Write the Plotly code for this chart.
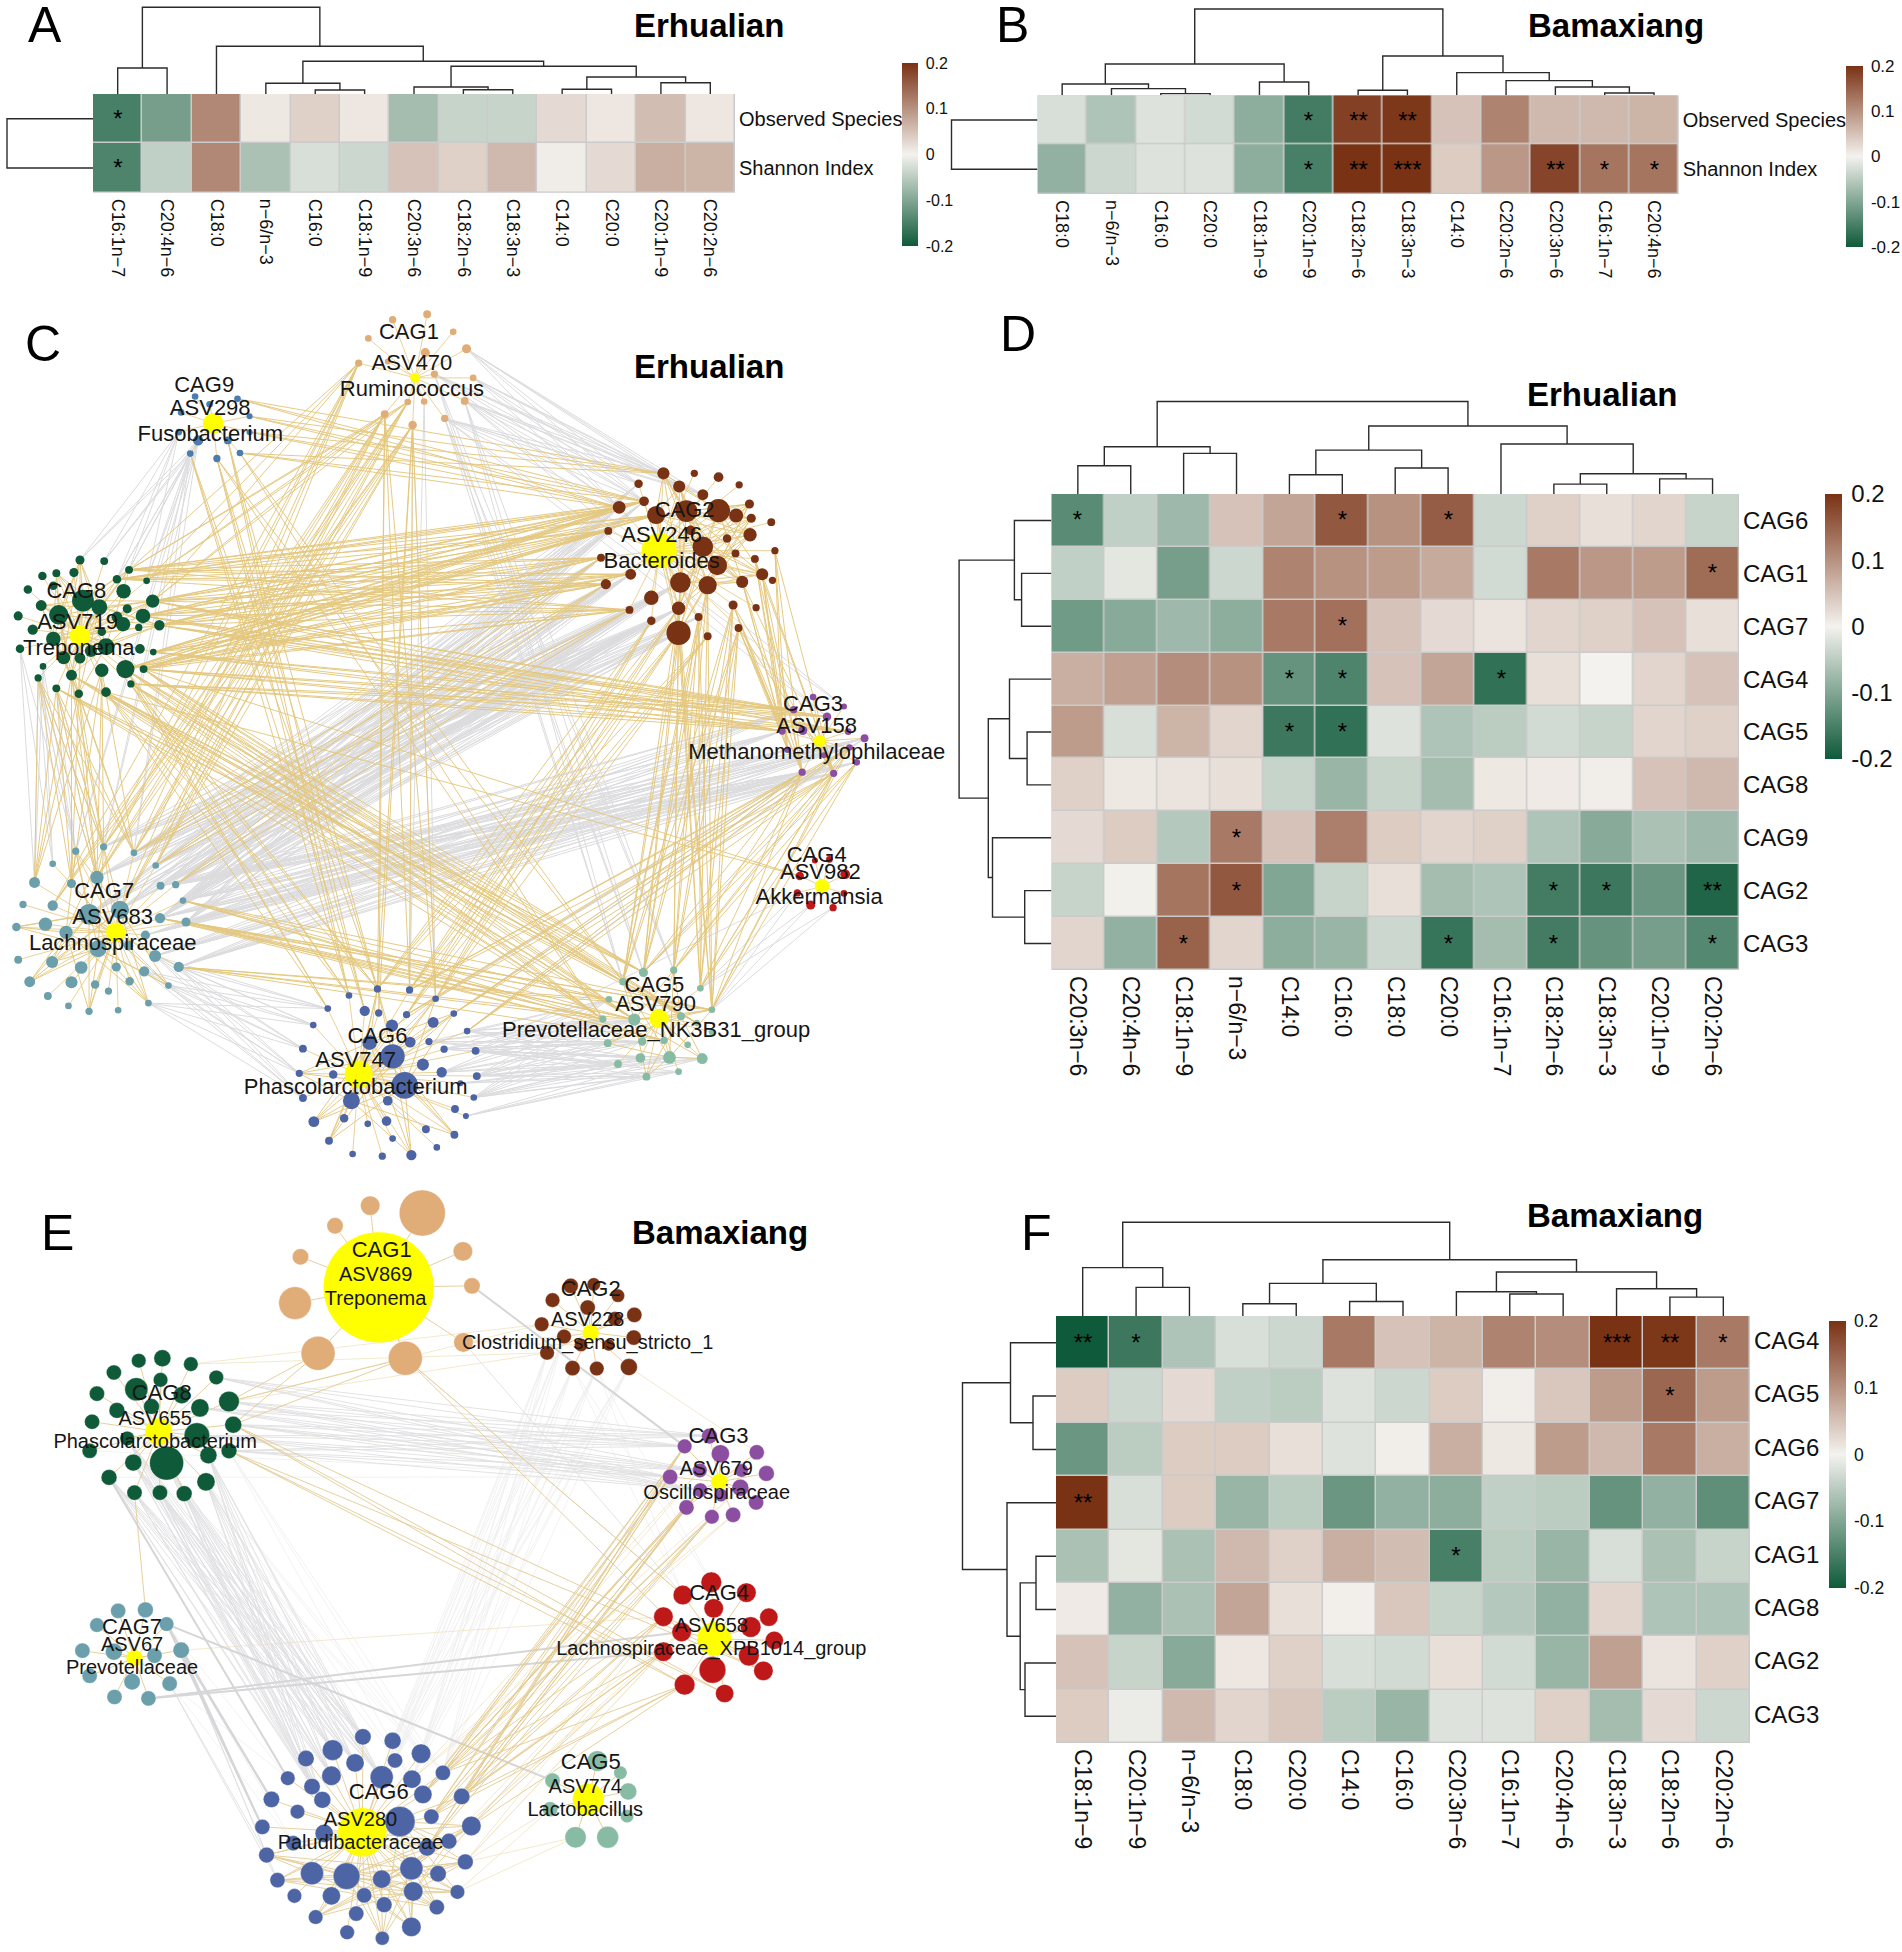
import plotly.graph_objects as go

W, H = 1902, 1952
FONT = "Liberation Sans"
SCALE = [[0, "#0F5A3A"], [0.5, "#F4F2EE"], [1, "#7A3214"]]

# ---------- heatmap values ----------
ROWS_AB = ["Observed Species", "Shannon Index"]
COLS_A = ["C16:1n−7", "C20:4n−6", "C18:0", "n−6/n−3", "C16:0", "C18:1n−9", "C20:3n−6", "C18:2n−6", "C18:3n−3", "C14:0", "C20:0", "C20:1n−9", "C20:2n−6"]
Z_A = [[-0.15, -0.11, 0.11, 0.01, 0.035, 0.012, -0.07, -0.04, -0.04, 0.025, 0.012, 0.055, 0.012],
       [-0.145, -0.045, 0.11, -0.065, -0.025, -0.035, 0.05, 0.035, 0.06, 0.006, 0.025, 0.07, 0.065]]
STARS_A = {(0, 0): "*", (1, 0): "*"}
TOP_A = [(0, 1, 26), (4, 5, 4), (3, 14, 10.7), (7, 8, 4.3), (6, 16, 7), (9, 10, 4.7), (11, 12, 11.3), (18, 19, 17), (17, 20, 27.7), (15, 21, 32.7), (2, 22, 47.7), (13, 23, 86.7)]
LEFT_AB = [(0, 1, 86)]

COLS_B = ["C18:0", "n−6/n−3", "C16:0", "C20:0", "C18:1n−9", "C20:1n−9", "C18:2n−6", "C18:3n−3", "C14:0", "C20:2n−6", "C20:3n−6", "C16:1n−7", "C20:4n−6"]
Z_B = [[-0.025, -0.06, -0.02, -0.03, -0.09, -0.155, 0.185, 0.195, 0.05, 0.115, 0.06, 0.06, 0.065],
       [-0.085, -0.035, -0.02, -0.02, -0.09, -0.15, 0.2, 0.2, 0.04, 0.095, 0.18, 0.13, 0.13]]
STARS_B = {(0, 5): "*", (1, 5): "*", (0, 6): "**", (1, 6): "**", (0, 7): "**", (1, 7): "***", (1, 10): "**", (1, 11): "*", (1, 12): "*"}
TOP_B = [(2, 3, 1.7), (1, 13, 6.7), (0, 14, 11.3), (4, 5, 13.3), (15, 16, 31.3), (6, 7, 5), (11, 12, 2.3), (10, 19, 8.3), (9, 20, 14.7), (8, 21, 22.7), (18, 22, 39.3), (17, 23, 86.3)]

ROWS_D = ["CAG6", "CAG1", "CAG7", "CAG4", "CAG5", "CAG8", "CAG9", "CAG2", "CAG3"]
COLS_D = ["C20:3n−6", "C20:4n−6", "C18:1n−9", "n−6/n−3", "C14:0", "C16:0", "C18:0", "C20:0", "C16:1n−7", "C18:2n−6", "C18:3n−3", "C20:1n−9", "C20:2n−6"]
Z_D = [[-0.135, -0.045, -0.075, 0.05, 0.08, 0.16, 0.1, 0.155, -0.035, 0.035, 0.02, 0.03, -0.04],
       [-0.045, -0.015, -0.11, -0.035, 0.115, 0.1, 0.09, 0.075, -0.03, 0.125, 0.095, 0.09, 0.14],
       [-0.115, -0.095, -0.075, -0.09, 0.125, 0.135, 0.05, 0.025, 0.015, 0.03, 0.035, 0.05, 0.02],
       [0.07, 0.085, 0.105, 0.1, -0.125, -0.145, 0.05, 0.08, -0.17, 0.02, 0.0, 0.03, 0.05],
       [0.09, -0.025, 0.065, 0.03, -0.16, -0.17, -0.02, -0.06, -0.05, -0.03, -0.04, 0.03, 0.035],
       [0.035, 0.01, 0.015, 0.02, -0.04, -0.08, -0.04, -0.07, 0.01, 0.008, 0.005, 0.05, 0.06],
       [0.025, 0.04, -0.055, 0.125, 0.05, 0.12, 0.04, 0.03, 0.035, -0.06, -0.095, -0.065, -0.075],
       [-0.04, -0.003, 0.13, 0.16, -0.1, -0.04, 0.02, -0.07, -0.06, -0.155, -0.16, -0.12, -0.185],
       [0.03, -0.085, 0.15, 0.03, -0.09, -0.08, -0.035, -0.165, -0.07, -0.155, -0.125, -0.11, -0.14]]
STARS_D = {(0, 0): "*", (0, 5): "*", (0, 7): "*", (1, 12): "*", (2, 5): "*", (3, 4): "*", (3, 5): "*", (3, 8): "*", (4, 4): "*", (4, 5): "*", (6, 3): "*", (7, 3): "*", (7, 9): "*", (7, 10): "*", (7, 12): "**", (8, 2): "*", (8, 7): "*", (8, 9): "*", (8, 12): "*"}
TOP_D = [(0, 1, 28.3), (2, 3, 40.6), (13, 14, 47.2), (4, 5, 19.3), (6, 7, 26), (16, 17, 43.9), (9, 10, 9.9), (11, 12, 15.1), (19, 20, 20.3), (8, 21, 50), (18, 22, 68), (15, 23, 92.5)]
LEFT_D = [(1, 2, 29.8), (0, 9, 37), (4, 5, 24.3), (3, 11, 41.9), (7, 8, 26.7), (6, 13, 58.9), (12, 14, 63.1), (10, 15, 92.3)]

ROWS_F = ["CAG4", "CAG5", "CAG6", "CAG7", "CAG1", "CAG8", "CAG2", "CAG3"]
COLS_F = ["C18:1n−9", "C20:1n−9", "n−6/n−3", "C18:0", "C20:0", "C14:0", "C16:0", "C20:3n−6", "C16:1n−7", "C20:4n−6", "C18:3n−3", "C18:2n−6", "C20:2n−6"]
Z_F = [[-0.2, -0.16, -0.06, -0.025, -0.035, 0.125, 0.05, 0.065, 0.115, 0.105, 0.2, 0.195, 0.125],
       [0.04, -0.035, 0.025, -0.045, -0.05, -0.02, -0.035, 0.04, 0.005, 0.045, 0.09, 0.145, 0.09],
       [-0.12, -0.05, 0.04, 0.04, 0.02, -0.02, 0.005, 0.07, 0.01, 0.09, 0.06, 0.125, 0.07],
       [0.2, -0.025, 0.04, -0.08, -0.05, -0.12, -0.085, -0.09, -0.045, -0.05, -0.125, -0.085, -0.13],
       [-0.065, -0.015, -0.065, 0.06, 0.035, 0.07, 0.055, -0.15, -0.05, -0.08, -0.025, -0.065, -0.04],
       [0.008, -0.085, -0.065, 0.08, 0.02, 0.003, 0.045, -0.04, -0.055, -0.085, 0.03, -0.06, -0.06],
       [0.05, -0.04, -0.095, 0.012, 0.035, -0.025, -0.03, 0.02, -0.03, -0.08, 0.085, 0.015, 0.035],
       [0.04, -0.008, 0.06, 0.03, 0.045, -0.05, -0.08, -0.02, -0.02, 0.035, -0.07, 0.025, -0.035]]
STARS_F = {(0, 0): "**", (0, 1): "*", (0, 10): "***", (0, 11): "**", (0, 12): "*", (1, 11): "*", (3, 0): "**", (4, 7): "*"}
TOP_F = [(1, 2, 28.6), (0, 13, 48.4), (3, 4, 12.3), (5, 6, 14.5), (15, 16, 32.6), (8, 9, 22), (7, 18, 24.2), (11, 12, 18.9), (10, 20, 27.3), (19, 21, 44), (17, 22, 56.3), (14, 23, 93.8)]
LEFT_F = [(1, 2, 23), (0, 8, 45.5), (4, 5, 20), (6, 7, 31), (10, 11, 35.8), (3, 12, 49), (9, 13, 93.5)]

# ---------- network C (Erhualian): hub and members as (x, y, size) ----------
C_HUBS = {"1": (685, 142, 16), "9": (352, 225, 34), "2": (1088, 457, 58), "8": (132, 612, 34), "3": (1353, 804, 20),
          "4": (1357, 1069, 24), "7": (191, 1153, 32), "6": (592, 1412, 46), "5": (1088, 1310, 32)}
C_1 = [(648,36,12),(705,26,13),(608,70,11),(748,58,11),(770,89,15),(592,115,12),(702,96,15),(717,135,12),(781,142,11),(673,186,11),(700,185,11),(767,184,13),(635,208,13),(681,228,14),(734,216,12),(640,112,10)]
C_9 = [(322,176,11),(346,190,11),(392,180,11),(299,205,11),(412,212,10),(295,241,11),(327,256,17),(376,256,13),(412,241,10),(314,280,11),(358,289,12),(396,279,11)]
C_2 = [(1095,316,20),(1146,316,12),(1186,323,16),(1054,335,14),(1121,340,20),(1220,337,12),(1160,355,18),(1022,378,21),(1063,367,16),(1083,392,30),(1133,385,36),(1186,384,38),(1237,372,15),(1215,393,23),(1240,398,15),(1273,405,13),(1004,421,13),(1238,428,22),(1200,435,14),(1160,450,34),(1279,457,12),(1214,462,13),(992,470,13),(1246,472,13),(1184,484,32),(1041,500,18),(1258,500,20),(1000,518,17),(1225,514,20),(1275,511,12),(1123,515,34),(1168,520,30),(1075,543,24),(1120,562,22),(1210,556,15),(1248,561,12),(1039,565,13),(1075,585,14),(1153,578,13),(1120,607,40),(1168,613,13),(1219,598,13),(1140,420,16)]
C_8 = [(132,474,15),(172,476,13),(70,503,14),(93,498,13),(122,497,15),(213,492,13),(46,528,14),(193,509,14),(242,512,11),(204,531,24),(88,521,14),(137,548,36),(68,557,18),(252,549,22),(30,576,15),(97,574,32),(164,560,26),(210,563,15),(236,576,24),(193,578,18),(54,601,17),(263,593,17),(88,618,24),(229,597,12),(203,591,24),(168,605,14),(33,636,14),(105,652,22),(132,653,18),(175,632,28),(231,636,16),(253,642,11),(71,668,11),(118,684,18),(168,675,22),(207,673,30),(237,673,13),(63,689,12),(216,700,12),(93,708,13),(130,718,14),(175,715,16),(150,640,20)]
C_3 = [(1342,724,11),(1393,741,10),(1310,747,12),(1365,760,14),(1291,786,12),(1325,785,15),(1400,787,11),(1427,799,13),(1300,820,11),(1402,816,11),(1414,843,11),(1324,861,12),(1376,863,12),(1360,830,10)]
C_4 = [(1345,1022,10),(1369,1020,11),(1320,1050,14),(1395,1047,16),(1316,1081,12),(1393,1082,11),(1338,1103,15),(1375,1108,12)]
C_7 = [(125,1005,12),(171,997,12),(87,1028,11),(221,1008,11),(57,1062,18),(118,1064,15),(160,1053,22),(257,1031,11),(265,1068,13),(290,1066,12),(38,1102,12),(87,1104,17),(147,1120,34),(198,1112,30),(302,1095,11),(264,1127,17),(75,1138,22),(27,1143,14),(109,1153,22),(307,1134,15),(240,1158,15),(162,1183,28),(212,1177,16),(30,1203,13),(86,1207,20),(134,1217,21),(192,1216,15),(256,1196,20),(295,1216,17),(238,1224,17),(49,1243,18),(118,1244,20),(157,1248,14),(214,1242,14),(278,1250,11),(79,1269,13),(179,1260,12),(113,1287,11),(147,1297,12),(195,1295,11),(245,1282,11)]
C_6 = [(623,1256,12),(676,1258,12),(576,1268,11),(719,1274,11),(541,1292,11),(602,1296,17),(625,1300,12),(671,1303,12),(749,1301,11),(517,1322,11),(715,1317,18),(647,1323,20),(610,1354,24),(677,1353,18),(771,1333,11),(500,1365,13),(708,1352,12),(648,1379,40),(785,1369,13),(733,1366,12),(698,1394,20),(494,1410,12),(550,1412,14),(729,1408,17),(787,1415,13),(668,1432,44),(760,1428,10),(500,1455,13),(580,1460,28),(782,1454,11),(751,1475,13),(518,1498,18),(568,1492,14),(607,1502,11),(638,1497,16),(769,1488,10),(703,1512,13),(750,1522,13),(543,1533,13),(648,1529,11),(721,1545,11),(582,1557,11),(631,1561,12),(679,1559,17),(640,1460,16)]
C_5 = [(1028,1243,12),(1062,1226,15),(1112,1222,12),(1156,1255,11),(1005,1275,11),(1175,1294,11),(995,1311,12),(1047,1312,20),(1124,1306,13),(1150,1318,10),(1003,1355,13),(1060,1352,14),(1096,1350,12),(1135,1358,11),(1175,1335,10),(1057,1382,16),(1105,1381,21),(1159,1383,18),(1020,1393,13),(1067,1416,13),(1120,1407,11)]
C_NODES = {"1": C_1, "2": C_2, "3": C_3, "4": C_4, "5": C_5, "6": C_6, "7": C_7, "8": C_8, "9": C_9}
C_LABELS = [("CAG1",675,61),("ASV470",680,117),("Ruminococcus",680,165),("CAG9",337,157),("ASV298",347,200),("Fusobacterium",347,247),
            ("CAG2",1130,385),("ASV246",1092,431),("Bacteroides",1092,478),("CAG8",126,533),("ASV719",128,590),("Treponema",130,637),
            ("CAG3",1342,740),("ASV158",1348,780),("Methanomethylophilaceae",1348,827),("CAG4",1348,1015),("ASV982",1354,1045),("Akkermansia",1352,1092),
            ("CAG7",172,1080),("ASV683",186,1128),("Lachnospiraceae",186,1175),("CAG5",1080,1252),("ASV790",1082,1287),("Prevotellaceae_NK3B31_group",1083,1334),
            ("CAG6",623,1345),("ASV747",587,1388),("Phascolarctobacterium",587,1437)]
C_GOLD = [("8",[5,13,21,18,31,36,35,7],"2",[7,16,22,27,25,8,9,36]),
          ("8",[13,21,31,36,18,38],"3",[3,4,2,6]),
          ("8",[36,38,35,41,33,39],"5",[1,7,9,0,6]),
          ("8",[39,40,33,37,34],"7",[4,5,3,6,1]),
          ("7",[3,7,6,13,11,1],"1",[12,13,9,5]),
          ("6",[0,1,3,7],"2",[33,39,37,40]),
          ("5",[0,1,2,3,5],"2",[39,33,31,34,38,41]),
          ("3",[11,12,8,4],"2",[23,26,28,20,34,41]),
          ("3",[11,12,10,9],"5",[1,2,3,5]),
          ("3",[11,12,9],"6",[1,7,8,14]),
          ("7",[14,19,15,28],"5",[5,7,4,6,12]),
          ("7",[7,9,3],"2",[36,27,22]),
          ("9",[9,10,7],"6",[0,2,5]),
          ("9",[2,4,8,11],"2",[7,8,0]),
          ("9",[10,11],"5",[0,6]),
          ("1",[12,13],"6",[0,1,3,6]),
          ("1",[12,5,9],"8",[5,8,13]),
          ("8",[38,35,41],"6",[4,2,0]),
          ("4",[2],"8",[36,41]),
          ("2",[9,10,11,19,24,30,31],"2",[0,4,12,14,17,26,28,33,39]),
          ("8",[11,15,16,22,29,27],"8",[0,3,5,13,21,33,40,12]),
          ("7",[12,13,18,21],"7",[0,1,17,24,30,34,38,40]),
          ("6",[17,25,28,12],"6",[0,3,8,21,31,38,43,37]),
          ("5",[7,8,16],"5",[0,2,5,10,17,19])]
C_GREY = [("7",[14,19,9,8,15,7,13,3,12],"2",[22,27,25,36,16,32,7,37,3,8,30,33]),
          ("7",[14,19,28,27,15,20,9,8],"3",[4,10,9,11,12,7,8,2]),
          ("7",[14,9,8,7,3,15,1,6],"2",[30,32,33,37,39,25,27,36,22,38]),
          ("1",[8,11,14,4,7],"2",[0,3,4,7,8,6]),
          ("9",[5,9,6],"8",[1,5,7,0,8]),
          ("7",[28,34,40,29,27],"6",[4,9,15,21,27]),
          ("6",[14,18,24,19,16,23,29],"5",[4,6,10,18,7,11,15]),
          ("6",[18,24,29,35,26],"5",[17,16,20,19]),
          ("1",[14,7,11],"5",[1,2,0]),
          ("1",[13,10],"6",[1,3]),
          ("8",[26,37,32],"7",[2,4,0]),
          ("8",[37,39],"7",[0,1,6]),
          ("3",[7,11,9],"6",[14,3,8]),
          ("4",[6,4,7],"5",[3,5]),
          ("4",[4],"6",[18]),
          ("7",[0,1,3],"9",[9,6]),
          ("1",[14,11],"3",[1,3])]

# ---------- network E (Bamaxiang) ----------
E_HUBS = {"1": (625, 218, 182), "2": (975, 310, 27), "8": (262, 511, 44), "3": (1187, 613, 27), "4": (1179, 932, 56),
          "7": (222, 971, 27), "6": (598, 1325, 80), "5": (971, 1258, 52)}
E_1 = [(697,67,76),(611,52,32),(553,93,27),(496,156,27),(764,145,32),(779,215,27),(487,250,54),(525,352,56),(669,362,56),(765,330,32)]
E_2 = [(942,215,25),(980,212,22),(912,244,24),(1020,235,22),(970,259,25),(1047,274,25),(1015,282,24),(894,293,24),(931,318,24),(1046,320,25),(959,335,22),(1005,335,20),(903,351,24),(945,382,25),(985,383,24),(1038,380,28)]
E_8 = [(229,367,24),(268,362,28),(315,374,24),(188,391,25),(357,401,24),(265,406,24),(225,425,38),(160,434,25),(300,437,28),(378,450,34),(193,468,26),(330,463,30),(250,460,26),(152,491,25),(385,497,28),(210,525,24),(325,519,42),(148,550,25),(378,550,26),(220,574,28),(344,559,28),(275,575,56),(180,604,26),(340,613,30),(222,635,25),(264,635,25),(304,637,26)]
E_3 = [(1171,520,26),(1130,541,24),(1189,556,30),(1249,553,25),(1106,603,25),(1155,590,24),(1265,596,26),(1224,590,22),(1222,625,28),(1156,630,24),(1248,655,25),(1133,665,25),(1175,684,24),(1210,680,25),(1190,640,22)]
E_4 = [(1174,817,34),(1127,843,32),(1232,838,32),(1178,870,32),(1095,887,32),(1269,888,30),(1239,908,34),(1125,918,32),(1278,935,30),(1095,958,32),(1236,966,34),(1176,995,44),(1260,997,32),(1130,1025,34),(1196,1043,30)]
E_7 = [(195,875,25),(240,873,26),(160,904,24),(275,902,24),(136,956,25),(188,958,28),(255,966,25),(299,955,27),(148,1007,25),(218,1019,27),(280,1023,25),(189,1050,25),(245,1053,25)]
E_6 = [(599,1131,27),(648,1139,28),(549,1158,34),(695,1165,32),(505,1175,27),(586,1184,30),(652,1179,25),(731,1204,25),(547,1210,32),(630,1213,38),(680,1217,30),(475,1215,24),(515,1232,27),(532,1259,28),(698,1248,30),(762,1252,27),(448,1258,27),(491,1283,24),(660,1303,50),(712,1293,25),(778,1312,32),(433,1314,25),(535,1327,30),(741,1343,26),(484,1347,25),(705,1356,28),(440,1371,26),(768,1385,26),(515,1408,38),(572,1414,44),(630,1420,30),(679,1398,38),(723,1409,27),(458,1422,25),(486,1454,24),(547,1454,30),(601,1453,25),(682,1445,32),(755,1446,24),(634,1472,26),(721,1477,25),(588,1490,25),(521,1497,24),(679,1517,32),(573,1528,24),(631,1540,23)]
E_5 = [(986,1180,34),(912,1220,25),(1024,1204,22),(1037,1242,28),(908,1278,25),(1035,1292,22),(950,1335,35),(1003,1335,36)]
E_NODES = {"1": E_1, "2": E_2, "3": E_3, "4": E_4, "5": E_5, "6": E_6, "7": E_7, "8": E_8}
E_LABELS = [("CAG1",630,145),("ASV869",620,195),("Treponema",620,243),("CAG2",975,224),("ASV228",970,286),("Clostridium_sensu_stricto_1",970,333),
            ("CAG8",267,436),("ASV655",256,488),("Phascolarctobacterium",256,535),("CAG3",1186,523),("ASV679",1182,589),("Oscillospiraceae",1183,637),
            ("CAG4",1187,841),("ASV658",1174,908),("Lachnospiraceae_XPB1014_group",1174,955),("CAG7",218,910),("ASV67",218,946),("Prevotellaceae",218,994),
            ("CAG6",625,1246),("ASV280",595,1301),("Paludibacteraceae",595,1349),("CAG5",975,1185),("ASV774",966,1234),("Lactobacillus",966,1282)]
E_GOLD = [("8",[9,14],"1",[8,7]),
          ("8",[14,18],"4",[13,14,12]),
          ("6",[7,14,19,15,25],"3",[11,12,9,4,1]),
          ("6",[7,19,15,20],"4",[4,9,13]),
          ("1",[8],"4",[1,7]),
          ("8",[24],"7",[1]),
          ("6",[18,29,30,31,37,36],"6",[20,23,27,38,40,43,45,42,33,26])]
E_GOLD_FAINT = [("6",[38,27],"5",[4,6]), ("8",[2,9],"2",[7,12]), ("8",[14],"3",[4]), ("7",[7],"4",[4]), ("6",[15,23,27],"4",[4,7,9]), ("1",[9],"2",[8,10]), ("2",[15],"3",[3]), ("6",[10,14],"3",[13,8,5])]
E_GREY = [("8",[19,21,22,24,25,26,23,20,15],"6",[5,0,8,12,13,9,2]),
          ("8",[4,9,14,18,16,11],"3",[1,4,5,9,0]),
          ("1",[8,9],"4",[1]),
          ("7",[7,10],"6",[26,33])]
E_GREY_FAINT = [("2",[12,13,14,15,8],"6",[1,3,6,9,7,10]), ("8",[17,22],"3",[4]), ("8",[23,26,18],"6",[3,7,10]), ("2",[13,14],"4",[0,1]), ("7",[3,10],"6",[11,24])]
E_GREY_THICK = [("1",[5],"3",[1]), ("7",[3],"5",[1]), ("7",[3,7],"6",[16,21]), ("7",[12],"4",[9,7]), ("8",[22],"6",[11])]

CAG_COLORS = {"1": "#E0AC78", "2": "#7A3214", "3": "#8B4EA0", "4": "#BE1818", "5": "#87BBA3", "6": "#4D64A5", "7": "#6A9FAB", "8": "#0F5A38", "9": "#4A7CAF"}

# ---------- panel geometry (pixels) ----------
fig = go.Figure()
layout = {}
axis_n = [0]

def new_axes(x_px, y_px, xopts, yopts):
    axis_n[0] += 1
    k = axis_n[0]
    sfx = "" if k == 1 else str(k)
    base = dict(showgrid=False, zeroline=False, showline=False, ticks="")
    layout["xaxis" + sfx] = dict(base, domain=[x_px[0] / W, x_px[1] / W], anchor="y" + sfx, **xopts)
    layout["yaxis" + sfx] = dict(base, domain=[1 - y_px[1] / H, 1 - y_px[0] / H], anchor="x" + sfx, **yopts)
    return "x" + sfx, "y" + sfx

HIDE = dict(showticklabels=False)

def dendro_segments(n, merges):
    pos = {i: (float(i), 0.0) for i in range(n)}
    along, depth = [], []
    for m, (a, b, h) in enumerate(merges):
        xa, ha = pos[a]
        xb, hb = pos[b]
        along += [xa, xa, xb, xb, None]
        depth += [ha, h, h, hb, None]
        pos[n + m] = ((xa + xb) / 2, h)
    return along, depth

def heat_panel(x0, x1, y0, y1, rows, cols, z, stars, top, left, cb, fonts, star_size=24, xstand=5, yshift=0):
    nr, nc = len(rows), len(cols)
    xa, ya = new_axes((x0, x1), (y0, y1),
                      dict(side="bottom", tickangle=90, tickfont=dict(family=FONT, size=fonts[0], color="#111"), ticklabelstandoff=xstand),
                      dict(side="right", autorange="reversed", tickfont=dict(family=FONT, size=fonts[1], color="#111"), ticklabelstandoff=3, ticklabelshift=yshift))
    text = [[stars.get((r, c), "") for c in range(nc)] for r in range(nr)]
    layout.setdefault("shapes", []).append(dict(type="rect", xref=xa + " domain", yref=ya + " domain", x0=0, x1=1, y0=0, y1=1,
                                                fillcolor="#CBCBCB", line=dict(width=0), layer="below"))
    fig.add_trace(go.Heatmap(z=z, x=cols, y=rows, xaxis=xa, yaxis=ya, colorscale=SCALE, zmin=-0.2, zmax=0.2, xgap=1.5, ygap=1.5,
                             text=text, texttemplate="%{text}", textfont=dict(family=FONT, size=star_size, color="#000"), hoverinfo="skip",
                             colorbar=dict(x=cb[0] / W, xanchor="left", xref="paper", y=1 - (cb[2] + cb[3]) / 2 / H, yanchor="middle", yref="paper",
                                           thickness=cb[1] - cb[0], thicknessmode="pixels", len=cb[3] - cb[2], lenmode="pixels", xpad=0, ypad=0,
                                           outlinewidth=0, ticks="outside", ticklen=5, tickcolor="rgba(0,0,0,0)", tickmode="array",
                                           tickvals=[-0.2, -0.1, 0, 0.1, 0.2], ticktext=["-0.2", "-0.1", "0", "0.1", "0.2"],
                                           tickfont=dict(family=FONT, size=fonts[2], color="#111"))))
    along, depth = dendro_segments(nc, top)
    hmax = max(m[2] for m in top) + 1.5
    xa2, ya2 = new_axes((x0, x1), (y0 - hmax, y0), dict(range=[-0.5, nc - 0.5], **HIDE), dict(range=[0, hmax], **HIDE))
    fig.add_trace(go.Scatter(x=along, y=depth, xaxis=xa2, yaxis=ya2, mode="lines", line=dict(color="#2B2B2B", width=1.4), hoverinfo="skip", cliponaxis=False))
    along, depth = dendro_segments(nr, left)
    hmax = max(m[2] for m in left) + 1.5
    xa3, ya3 = new_axes((x0 - hmax, x0), (y0, y1), dict(range=[hmax, 0], **HIDE), dict(range=[nr - 0.5, -0.5], **HIDE))
    fig.add_trace(go.Scatter(x=depth, y=along, xaxis=xa3, yaxis=ya3, mode="lines", line=dict(color="#2B2B2B", width=1.4), hoverinfo="skip", cliponaxis=False))

def edge_xy(nodes, bundles):
    xs, ys = [], []
    for a, ia, b, ib in bundles:
        for i in ia:
            for j in ib:
                if a == b and i == j:
                    continue
                xs += [nodes[a][i][0], nodes[b][j][0], None]
                ys += [nodes[a][i][1], nodes[b][j][1], None]
    return xs, ys

def star_xy(hubs, nodes):
    xs, ys = [], []
    for c, hub in hubs.items():
        for n in nodes[c]:
            xs += [hub[0], n[0], None]
            ys += [hub[1], n[1], None]
    return xs, ys

def network(x_px, y_px, yspan, hubs, nodes, labels, edge_sets, star_style, outline):
    xa, ya = new_axes(x_px, y_px, dict(range=[0, 1568], **HIDE), dict(range=[yspan, 0], **HIDE))
    for bundles, color, width in edge_sets:
        xs, ys = edge_xy(nodes, bundles)
        fig.add_trace(go.Scatter(x=xs, y=ys, xaxis=xa, yaxis=ya, mode="lines", line=dict(color=color, width=width), hoverinfo="skip", cliponaxis=False))
    xs, ys = star_xy(hubs, nodes)
    fig.add_trace(go.Scatter(x=xs, y=ys, xaxis=xa, yaxis=ya, mode="lines", line=dict(color=star_style[0], width=star_style[1]), hoverinfo="skip", cliponaxis=False))
    for c, pts in nodes.items():
        fig.add_trace(go.Scatter(x=[p[0] for p in pts], y=[p[1] for p in pts], xaxis=xa, yaxis=ya, mode="markers", cliponaxis=False, hoverinfo="skip",
                                 marker=dict(color=CAG_COLORS[c], opacity=1, size=[p[2] / 1.65 for p in pts], line=dict(width=outline, color="rgba(255,255,255,0.6)"))))
    hp = list(hubs.values())
    fig.add_trace(go.Scatter(x=[p[0] for p in hp], y=[p[1] for p in hp], xaxis=xa, yaxis=ya, mode="markers", cliponaxis=False, hoverinfo="skip",
                             marker=dict(color="#FFFF00", opacity=1, size=[p[2] / 1.65 for p in hp], line=dict(width=0))))
    fig.add_trace(go.Scatter(x=[l[1] for l in labels], y=[l[2] for l in labels], text=[l[0] for l in labels], xaxis=xa, yaxis=ya, mode="text",
                             textposition="middle center", cliponaxis=False, hoverinfo="skip",
                             textfont=dict(family=FONT, color="#161616", size=[22 if l[0].startswith("CAG") or yspan_c else 20 for l in labels])))

yspan_c = True
heat_panel(93, 735, 94, 192.7, ROWS_AB, COLS_A, Z_A, STARS_A, TOP_A, LEFT_AB, (902, 918, 63, 246), (18, 20, 16))
heat_panel(1037.5, 1678.7, 95.3, 194, ROWS_AB, COLS_B, Z_B, STARS_B, TOP_B, LEFT_AB, (1846, 1863, 66, 247), (18, 20, 17))
heat_panel(1051.4, 1739, 494, 970, ROWS_D, COLS_D, Z_D, STARS_D, TOP_D, LEFT_D, (1825, 1842, 494, 759), (23, 24, 24))
heat_panel(1056, 1750, 1316, 1743, ROWS_F, COLS_F, Z_F, STARS_F, TOP_F, LEFT_F, (1828.6, 1846, 1321, 1588), (23, 24, 17.5), yshift=2)

network((0, 950), (300, 1160), 1568, C_HUBS, C_NODES, C_LABELS,
        [(C_GREY, "#DCDCDE", 1.0), (C_GOLD, "#E4C77D", 0.95)], ("#E4C77D", 0.8), 0)
yspan_c = False
network((0, 950), (1180, 1952), 1568, E_HUBS, E_NODES, E_LABELS,
        [(E_GREY_FAINT, "#EFEFEF", 0.8), (E_GOLD_FAINT, "#F0E3C0", 0.8), (E_GREY, "#E0E0E2", 0.9), (E_GREY_THICK, "#D6D6D8", 2.0), (E_GOLD, "#E3CB92", 0.9)],
        ("#E3CB92", 0.9), 0.6)

def note(text, cx, cy, size):
    return dict(text=text, x=cx / W, y=1 - cy / H, xref="paper", yref="paper", xanchor="center", yanchor="middle", showarrow=False,
                font=dict(family=FONT, size=size, color="#000"))

layout["annotations"] = [
    note("A", 45, 25, 50), note("B", 1012, 25, 50), note("C", 43, 344, 50), note("D", 1018, 334, 50), note("E", 57, 1233, 50), note("F", 1036, 1233, 50),
    note("<b>Erhualian</b>", 709, 25, 33), note("<b>Bamaxiang</b>", 1616, 26, 33), note("<b>Erhualian</b>", 709, 366, 33),
    note("<b>Erhualian</b>", 1602, 394, 33), note("<b>Bamaxiang</b>", 720, 1232, 33), note("<b>Bamaxiang</b>", 1615, 1215, 33),
]

fig.update_layout(width=W, height=H, margin=dict(l=0, r=0, t=0, b=0, pad=0), paper_bgcolor="white", plot_bgcolor="rgba(0,0,0,0)",
                  showlegend=False, font=dict(family=FONT), **layout)
fig.write_html("out.html", config={"displayModeBar": False}, post_script="document.body.style.margin='0';document.documentElement.style.overflow='hidden';")
